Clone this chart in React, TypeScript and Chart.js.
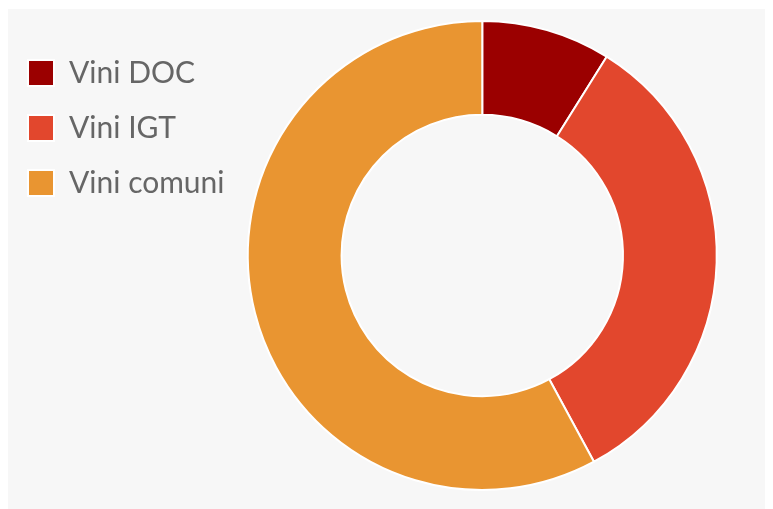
import React, { useEffect, useRef } from "react";
import { Chart, registerables } from "chart.js";

Chart.register(...registerables);

const categories = ["Vini DOC", "Vini IGT", "Vini comuni"];
const values = [8.9, 33.2, 57.9];
const colors = ["#9b0000", "#e2472d", "#e99531"];

export default function App() {
  const ref = useRef<HTMLCanvasElement | null>(null);
  useEffect(() => {
    if (!ref.current) return;
    const chart = new Chart(ref.current, {
      type: "doughnut",
      data: {
        labels: categories,
        datasets: [
          {
            data: values,
            backgroundColor: colors,
            borderColor: "#ffffff",
            borderWidth: 2,
          },
        ],
      },
      options: {
        responsive: false,
        animation: false,
        cutout: "60%",
        layout: { padding: { top: 11, bottom: 18, left: -5, right: 35 } },
        plugins: {
          tooltip: { enabled: false },
          legend: {
            position: "left",
            align: "start",
            title: { display: true, text: "", padding: 0, font: { size: 13, lineHeight: 1 } },
            labels: {
              boxWidth: 26,
              boxHeight: 26,
              padding: 25,
              color: "#666666",
              font: { family: "Lato", size: 30 },
            },
          },
        },
      },
    });
    return () => chart.destroy();
  }, []);
  return (
    <div style={{ width: 757, height: 500, background: "#f7f7f7", marginTop: 1 }}>
      <canvas ref={ref} width={757} height={500} style={{ display: "block" }} />
    </div>
  );
}
